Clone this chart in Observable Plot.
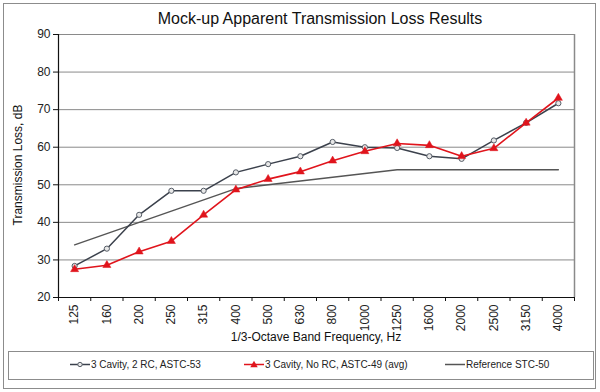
<!DOCTYPE html>
<html><head><meta charset="utf-8">
<script src="https://cdn.jsdelivr.net/npm/d3@7"></script>
<script src="https://cdn.jsdelivr.net/npm/@observablehq/plot@0.6"></script>
<style>
body{margin:0;background:#fff;font-family:"Liberation Sans",Arial,sans-serif;}
#wrap{position:relative;width:600px;height:392px;overflow:hidden;}
.abs{position:absolute;white-space:nowrap;color:#111;}
</style></head>
<body><div id="wrap"></div>
<script>
const freqs = ["125","160","200","250","315","400","500","630","800","1000","1250","1600","2000","2500","3150","4000"];
const cavity2RC = [28.4,33.0,42.0,48.4,48.4,53.3,55.5,57.6,61.4,60.0,59.8,57.6,56.9,61.8,66.5,71.7];
const cavityNoRC = [27.5,28.6,32.2,35.0,42.0,48.7,51.5,53.5,56.4,58.9,61.0,60.5,57.6,59.7,66.5,73.1];
const refSTC50 = [34,37,40,43,46,49,50,51,52,53,54,54,54,54,54,54];
const yTicks = [20,30,40,50,60,70,80,90];
const seriesNames = ["3 Cavity, 2 RC, ASTC-53","3 Cavity, No RC, ASTC-49 (avg)","Reference STC-50"];

const rows = (vals, name) => vals.map((v,i) => ({i: i + 0.5, f: freqs[i], v, name}));
const s1 = rows(cavity2RC, seriesNames[0]);
const s2 = rows(cavityNoRC, seriesNames[1]);
const s3 = rows(refSTC50, seriesNames[2]);

const C1 = "#3b414c", C2 = "#e0141c", C3 = "#555555", GRID = "#8a8a8a";

const wrap = document.getElementById("wrap");

const chart = Plot.plot({
  width: 600, height: 345,
  marginLeft: 58, marginRight: 26, marginTop: 34, marginBottom: 48,
  style: {fontFamily: "'Liberation Sans', Arial, sans-serif", fontSize: "12px", color: "#222", background: "transparent"},
  x: {type: "linear", domain: [0, freqs.length]},
  y: {domain: [20, 90]},
  marks: [
    Plot.gridY(yTicks, {stroke: GRID, strokeOpacity: 1, strokeWidth: 1}),
    Plot.ruleX([freqs.length], {stroke: GRID, strokeWidth: 1.5}),
    Plot.axisY(yTicks, {tickSize: 5, tickPadding: 3, label: null, stroke: "#111", fontSize: 12}),
    Plot.axisX(d3.range(freqs.length + 1), {tickSize: 4, tickFormat: () => "", label: null, stroke: "#111"}),
    Plot.axisX(d3.range(freqs.length).map(i => i + 0.5), {tickSize: 0, tickPadding: 7, tickRotate: -90, tickFormat: d => freqs[Math.floor(d)], label: null, fontSize: 12}),
    Plot.ruleY([20], {stroke: "#111", strokeWidth: 1.2}),
    Plot.ruleX([0], {stroke: "#111", strokeWidth: 1.2}),
    Plot.line(s3, {x: "i", y: "v", stroke: C3, strokeWidth: 1.4}),
    Plot.line(s1, {x: "i", y: "v", stroke: C1, strokeWidth: 1.5}),
    Plot.dot(s1, {x: "i", y: "v", r: 2.6, stroke: "#555c66", fill: "#e8e8e8", strokeWidth: 1}),
    Plot.line(s2, {x: "i", y: "v", stroke: C2, strokeWidth: 1.6}),
    Plot.dot(s2, {x: "i", y: "v", symbol: "triangle", r: 3, fill: C2, stroke: C2, strokeWidth: 0.5})
  ]
});
chart.style.position = "absolute";
chart.style.left = "0px";
chart.style.top = "0px";

// outer frame
const frame = document.createElement("div");
frame.style.cssText = "position:absolute;left:3px;top:3px;width:591px;height:384px;border:1.5px solid #8c8c8c;";
wrap.appendChild(frame);
wrap.appendChild(chart);

function addText(txt, css){
  const d = document.createElement("div");
  d.className = "abs";
  d.textContent = txt;
  d.style.cssText += css;
  wrap.appendChild(d);
  return d;
}
// title
addText("Mock-up Apparent Transmission Loss Results", "left:0;width:640px;text-align:center;top:9px;font-size:16px;line-height:20px;color:#111;");
// x label
addText("1/3-Octave Band Frequency, Hz", "left:0;width:632px;text-align:center;top:329px;font-size:12px;line-height:16px;");
// y label
addText("Transmission Loss, dB", "left:18px;top:165px;font-size:12px;line-height:14px;transform:translate(-50%,-50%) rotate(-90deg);");

// legend box
const leg = document.createElement("div");
leg.style.cssText = "position:absolute;left:8px;top:351px;width:584px;height:27px;border:1px solid #8c8c8c;background:#fff;";
wrap.appendChild(leg);

const legendItems = [
  {name: seriesNames[0], x: 70, color: C1, marker: "circle"},
  {name: seriesNames[1], x: 244, color: C2, marker: "triangle"},
  {name: seriesNames[2], x: 445, color: C3, marker: null}
];
const lsvg = d3.create("svg").attr("width", 600).attr("height", 30)
  .style("position", "absolute").style("left", "0px").style("top", "350px");
legendItems.forEach(it => {
  const g = lsvg.append("g").attr("transform", `translate(${it.x},14.5)`);
  g.append("line").attr("x1", 0).attr("x2", 20).attr("stroke", it.color).attr("stroke-width", 1.5);
  if (it.marker === "circle") g.append("circle").attr("cx", 10).attr("r", 2.2).attr("fill", "#e8e8e8").attr("stroke", "#555c66");
  if (it.marker === "triangle") g.append("path").attr("d", d3.symbol(d3.symbolTriangle, 24)()).attr("transform", "translate(10,0.5)").attr("fill", C2);
  g.append("text").attr("x", 21).attr("dy", "0.35em").attr("font-size", 10)
    .attr("font-family", "'Liberation Sans', Arial, sans-serif").attr("fill", "#222").text(it.name);
});
wrap.appendChild(lsvg.node());
</script></body></html>
